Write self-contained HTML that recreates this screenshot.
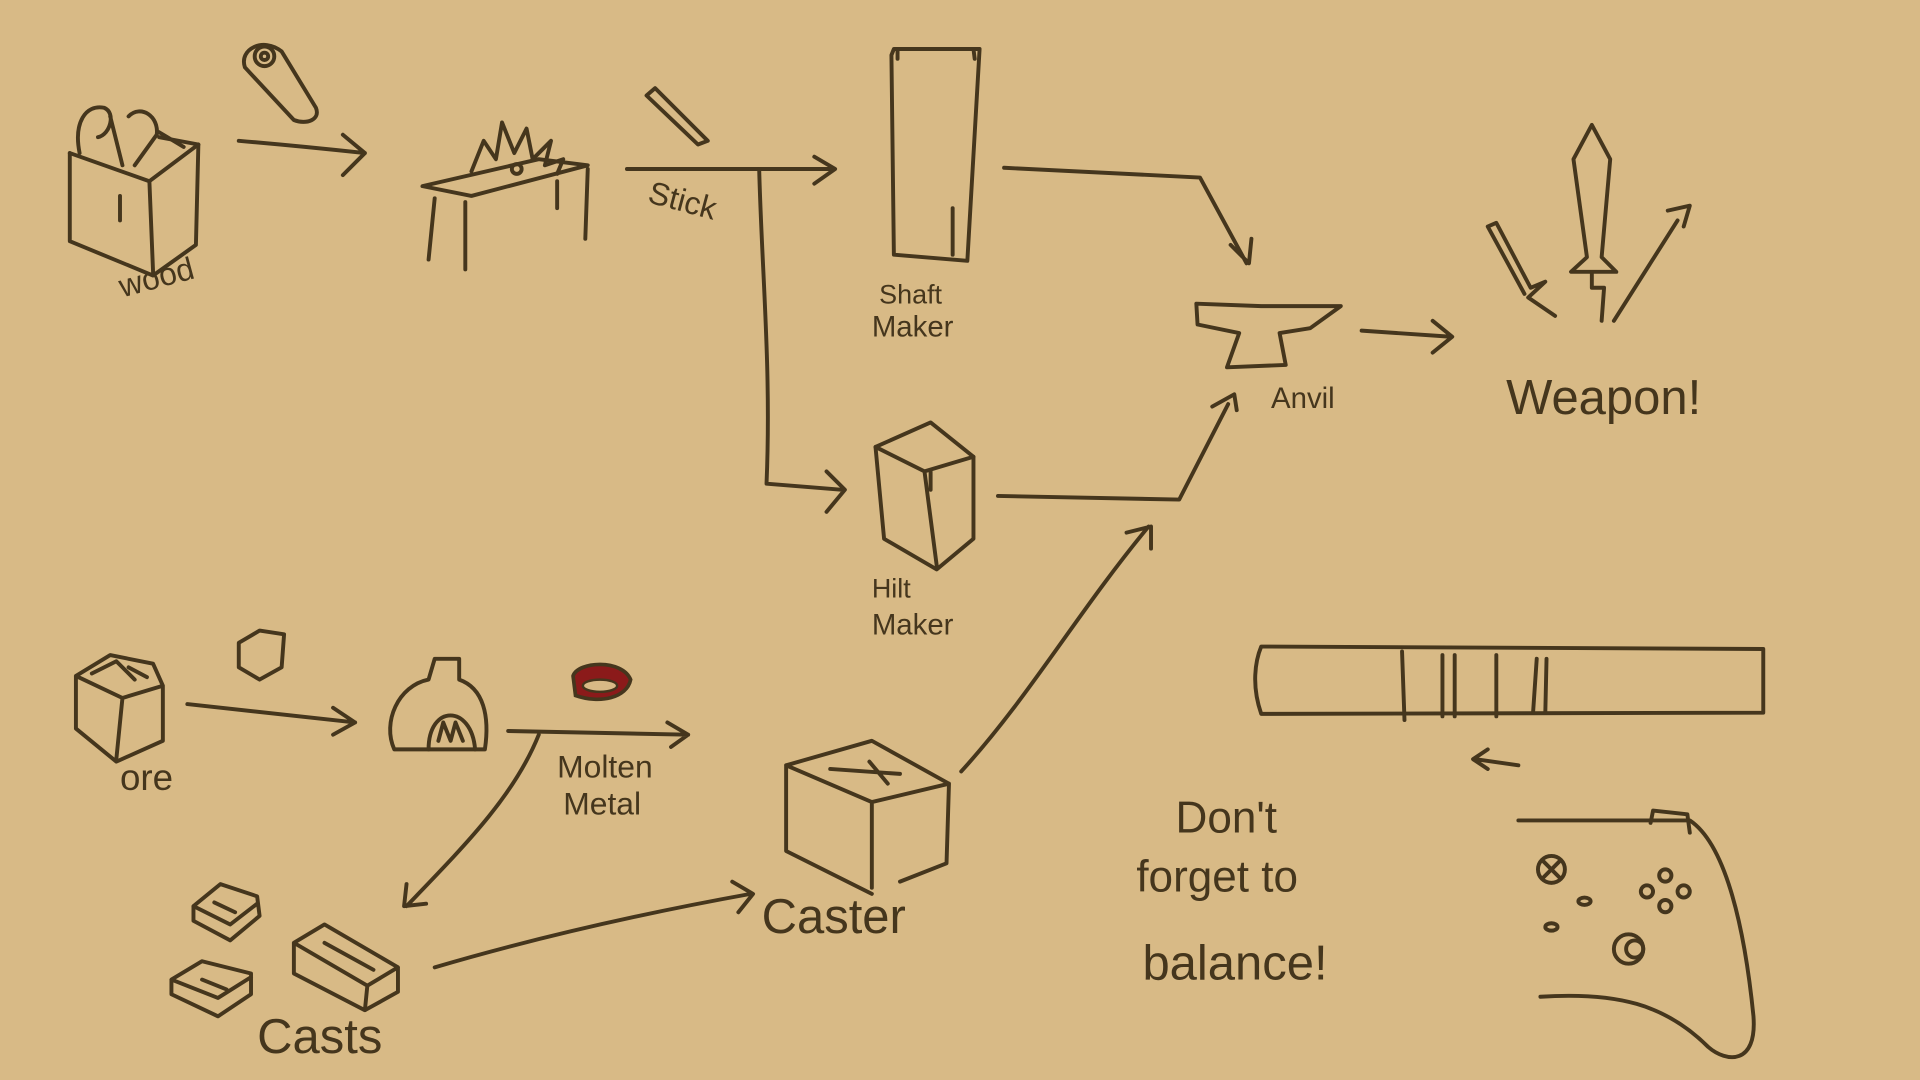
<!DOCTYPE html>
<html><head><meta charset="utf-8"><style>
html,body{margin:0;padding:0;background:#d8ba86;}
svg{display:block}
text{font-family:"Liberation Sans",sans-serif;fill:#45361d}
</style></head><body>
<svg width="1920" height="1080" viewBox="0 0 1568 882" xmlns="http://www.w3.org/2000/svg">
<rect width="1568" height="882" fill="#d8ba86"/>
<g fill="none" stroke="#45361d" stroke-width="3.2" stroke-linecap="round" stroke-linejoin="round">
<!-- wood box -->
<path d="M57,125 L57,197 L125,225 L160,200 L162,118 L130,112"/>
<path d="M57,125 L122,148 L162,118"/>
<path d="M122,148 L125,222"/><path d="M98,160 L98,180"/>
<path d="M65,125 C60,100 70,85 85,88 C95,92 90,110 80,112 M90,95 L100,135 M105,95 C115,85 130,95 128,110 L110,135 M130,108 L150,120"/>
<!-- log icon -->
<path d="M200,55 C195,40 215,30 230,42 L258,88 C262,98 250,102 240,98 Z"/>
<circle cx="216" cy="46" r="8"/><circle cx="216" cy="46" r="3"/>
<!-- arrow 1 -->
<path d="M195,115 C230,118 270,122 298,125 M280,110 L298,125 L280,143"/>
<!-- table -->
<path d="M345,152 L440,130 L480,135 L385,160 Z"/>
<path d="M355,162 L350,212 M380,165 L380,220 M455,148 L455,170 M480,138 L478,195"/>
<path d="M385,140 L395,115 L405,130 L410,100 L420,125 L430,105 L435,130 L450,115 L445,135 L460,130 L455,142"/>
<circle cx="422" cy="138" r="4"/>
<!-- stick icon -->
<path d="M528,78 L535,72 L578,115 L570,118 Z"/>
<!-- stick arrow -->
<path d="M512,138 L680,138 M665,128 L682,138 L665,150"/>
<path d="M620,138 C622,220 630,300 626,395 L688,400 M675,385 L690,400 L675,418"/>
<!-- shaft maker -->
<path d="M728,45 L730,208 L790,213 L800,40 L730,40 Z M733,40 L733,48 M795,40 L796,48"/>
<path d="M778,170 L778,208"/>
<!-- to anvil top -->
<path d="M820,137 L980,145 L1018,215 M1005,200 L1020,215 L1022,195"/>
<!-- hilt maker -->
<path d="M715,365 L760,345 L795,373 L795,440 L765,465 L722,440 Z"/>
<path d="M715,365 L755,385 L795,373 M755,385 L765,462 M760,385 L760,400"/>
<path d="M815,405 L963,408 L1003,330 M990,332 L1008,322 L1010,335"/>
<!-- anvil -->
<path d="M977,248 L1030,250 L1095,250 L1070,268 L1045,272 L1050,298 L1002,300 L1012,272 L978,265 Z"/>
<!-- arrow to weapon -->
<path d="M1112,270 L1185,275 M1170,262 L1186,275 L1170,288"/>
<!-- weapons -->
<path d="M1300,102 L1285,130 L1296,210 L1283,222 L1320,222 L1308,210 L1315,130 Z M1300,222 L1300,235 L1310,235 L1308,262"/>
<path d="M1215,185 L1222,182 L1250,235 L1262,230 L1248,243 L1270,258 M1215,185 L1245,240"/>
<path d="M1318,262 L1370,180 M1362,172 L1380,168 L1375,185"/>
<!-- ore box -->
<path d="M62,552 L90,535 L125,542 L133,560 L133,605 L95,622 L62,595 Z M62,552 L100,570 L133,560 M100,570 L95,620"/>
<path d="M75,550 L95,540 L110,555 M105,545 L120,553"/>
<!-- ore rock -->
<path d="M195,525 L212,515 L232,518 L230,545 L212,555 L195,545 Z"/>
<!-- arrow -->
<path d="M153,575 L290,590 M272,578 L290,590 L272,600"/>
<!-- furnace -->
<path d="M355,538 L375,538 L375,555 C395,562 400,585 396,612 L322,612 C312,590 325,560 350,555 Z"/>
<path d="M350,612 C350,575 385,575 388,612 M358,605 L362,590 L368,605 L372,590 L378,605"/>
<!-- arrow molten -->
<path d="M415,597 L562,600 M545,590 L562,600 L548,610"/>
<!-- casts line -->
<path d="M440,600 C420,650 380,690 332,740 M332,722 L330,740 L348,738"/>
<!-- casts -->
<path d="M158,740 L180,722 L210,732 L212,748 L188,768 L158,752 Z M158,740 L188,755 L210,738 M175,737 L192,745"/>
<path d="M140,800 L165,785 L205,795 L205,812 L178,830 L140,812 Z M140,800 L178,815 L205,798 M165,800 L185,808"/>
<path d="M240,770 L265,755 L325,790 L325,810 L298,825 L240,795 Z M240,770 L300,805 L325,790 M300,805 L298,825 M265,770 L305,792"/>
<!-- to caster -->
<path d="M355,790 C440,765 530,745 613,730 M598,720 L615,730 L603,745"/>
<!-- caster -->
<path d="M642,625 L712,605 L775,640 L773,705 L735,720 M642,625 L642,695 L712,730 M642,625 L712,655 L775,640 M712,655 L712,725"/>
<path d="M678,628 L735,632 M710,622 L725,640"/>
<!-- to anvil -->
<path d="M785,630 C840,570 880,500 938,430 M920,435 L940,430 L940,448"/>
<!-- bar -->
<path d="M1030,528 L1440,530 L1440,582 L1030,583 C1022,560 1025,540 1030,528 Z"/>
<path d="M1145,532 L1147,588 M1178,535 L1178,585 M1188,535 L1188,585 M1222,535 L1222,585 M1255,538 L1252,582 M1263,538 L1262,582"/>
<path d="M1240,625 L1205,620 M1215,612 L1203,620 L1215,628"/>
<!-- controller -->
<path d="M1240,670 L1380,670 C1410,690 1425,760 1432,830 C1435,870 1410,868 1395,855 C1360,820 1320,810 1258,814"/>
<path d="M1348,672 L1350,662 L1378,665 L1380,680"/>
<circle cx="1267" cy="710" r="11"/><path d="M1260,703 L1274,717 M1274,703 L1260,717"/>
<circle cx="1360" cy="715" r="5"/><circle cx="1375" cy="728" r="5"/><circle cx="1345" cy="728" r="5"/><circle cx="1360" cy="740" r="5"/>
<ellipse cx="1294" cy="736" rx="5" ry="3"/><ellipse cx="1267" cy="757" rx="5" ry="3"/>
<circle cx="1330" cy="775" r="12"/><circle cx="1335" cy="775" r="7"/>
</g>
<!-- molten metal -->
<path d="M468,552 C472,540 508,538 515,555 C512,570 490,575 470,568 Z" fill="#8b1a1a" stroke="#45361d" stroke-width="3"/>
<ellipse cx="490" cy="560" rx="14" ry="5" fill="#d8ba86" stroke="#45361d" stroke-width="2"/>
<g font-size="26">
<text x="100" y="243" transform="rotate(-15 100 243)">wood</text>
<text x="528" y="165" transform="rotate(15 528 165)">Stick</text>
<text x="718" y="248" font-size="22">Shaft</text>
<text x="712" y="275" font-size="24">Maker</text>
<text x="1038" y="333" font-size="24">Anvil</text>
<text x="1230" y="338" font-size="40">Weapon!</text>
<text x="712" y="488" font-size="22">Hilt</text>
<text x="712" y="518" font-size="24">Maker</text>
<text x="98" y="645" font-size="30">ore</text>
<text x="455" y="635" font-size="26">Molten</text>
<text x="460" y="665" font-size="26">Metal</text>
<text x="622" y="762" font-size="40">Caster</text>
<text x="210" y="860" font-size="40">Casts</text>
<text x="960" y="680" font-size="36">Don't</text>
<text x="928" y="728" font-size="36">forget to</text>
<text x="933" y="800" font-size="40">balance!</text>
</g>
</svg>
</body></html>
